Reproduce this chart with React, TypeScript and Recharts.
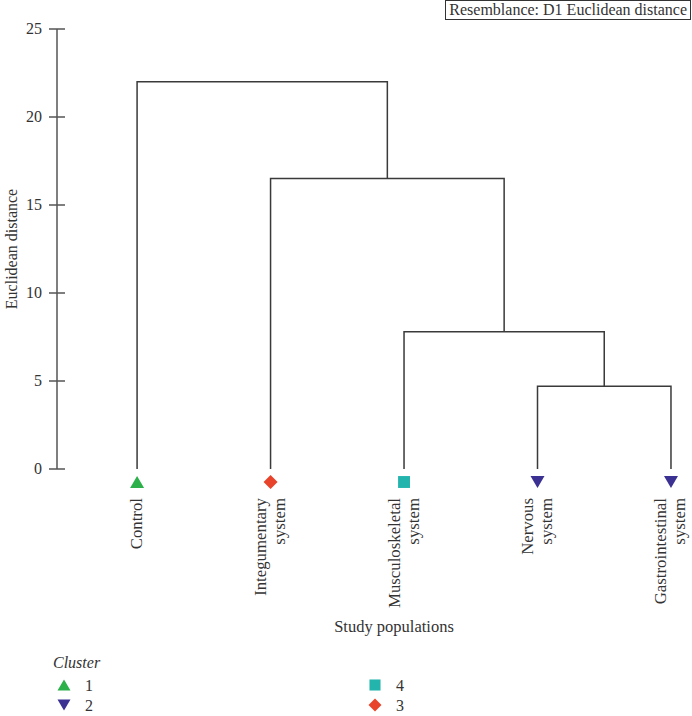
import React from "react";
import { ScatterChart, Scatter, XAxis, YAxis } from "recharts";

const leaves = ["Control", "Integumentary system", "Musculoskeletal system", "Nervous system", "Gastrointestinal system"];
const leafLines = [["Control"], ["Integumentary", "system"], ["Musculoskeletal", "system"], ["Nervous", "system"], ["Gastrointestinal", "system"]];
const leafClusters = [1, 3, 4, 2, 2];

// merges: node ids 0-4 are leaves, merge k creates node 5 + k
const mergeLeft = [3, 2, 1, 0];
const mergeRight = [4, 5, 6, 7];
const mergeHeights = [4.7, 7.8, 16.5, 22.0];

const yTicks = [0, 5, 10, 15, 20, 25];
const legendItems = [
  { cluster: 1, col: 0, row: 0 },
  { cluster: 2, col: 0, row: 1 },
  { cluster: 4, col: 1, row: 0 },
  { cluster: 3, col: 1, row: 1 },
];

const clusterColors: Record<number, string> = { 1: "#2bb04a", 2: "#3a3192", 3: "#e8442b", 4: "#22b4ad" };
const FONT = "'Liberation Serif', 'DejaVu Serif', serif";
const INK = "#333";

// node positions
const nodeX: number[] = leaves.map((_, i) => i);
const nodeH: number[] = leaves.map(() => 0);
mergeHeights.forEach((h, k) => {
  nodeX.push((nodeX[mergeLeft[k]] + nodeX[mergeRight[k]]) / 2);
  nodeH.push(h);
});
const links = mergeHeights.map((h, k) => {
  const a = mergeLeft[k];
  const b = mergeRight[k];
  return [
    { x: nodeX[a], y: nodeH[a] },
    { x: nodeX[a], y: h },
    { x: nodeX[b], y: h },
    { x: nodeX[b], y: nodeH[b] },
  ];
});
const leafData = leaves.map((name, i) => ({ x: i, y: 0, name, cluster: leafClusters[i] }));

function marker(cluster: number, cx: number, cy: number, s = 7) {
  const fill = clusterColors[cluster];
  if (cluster === 1) return <polygon points={`${cx - s},${cy + s * 0.85} ${cx + s},${cy + s * 0.85} ${cx},${cy - s * 0.85}`} fill={fill} />;
  if (cluster === 2) return <polygon points={`${cx - s},${cy - s * 0.85} ${cx + s},${cy - s * 0.85} ${cx},${cy + s * 0.85}`} fill={fill} />;
  if (cluster === 3) return <polygon points={`${cx - s},${cy} ${cx},${cy - s} ${cx + s},${cy} ${cx},${cy + s}`} fill={fill} />;
  return <rect x={cx - s * 0.85} y={cy - s * 0.85} width={s * 1.7} height={s * 1.7} fill={fill} />;
}

const LeafShape = (props: any) => {
  const { cx, cy, payload } = props;
  return marker(payload.cluster, cx, cy + 13);
};

const YTick = (props: any) => {
  const { x, y, payload } = props;
  return (
    <g>
      <line x1={x - 8} x2={x + 8} y1={y} y2={y} stroke="#555" strokeWidth={1.5} />
      <text x={x - 15} y={y} dy={5} textAnchor="end" fill={INK} fontSize={16} fontFamily={FONT}>
        {payload.value}
      </text>
    </g>
  );
};

const XTick = (props: any) => {
  const { x, y, payload } = props;
  const lines = leafLines[payload.value] || [];
  return (
    <g>
      {lines.map((t, i) => {
        const bx = x + 5 - ((lines.length - 1) * 19) / 2 + i * 19;
        const by = y + 29;
        return (
          <text key={i} x={bx} y={by} transform={`rotate(-90, ${bx}, ${by})`} textAnchor="end" fill={INK} fontSize={16.8} fontFamily={FONT}>
            {t}
          </text>
        );
      })}
    </g>
  );
};

const App = () => {
  return (
    <div style={{ position: "absolute", left: 0, top: 0, width: 692, height: 716, background: "#fff" }}>
      <div
        style={{
          position: "absolute", right: 1, top: 0, border: "1px solid #333", padding: "0 3px",
          fontFamily: FONT, fontSize: 16, color: INK, lineHeight: "18px", whiteSpace: "nowrap",
        }}
      >
        Resemblance: D1 Euclidean distance
      </div>
      <ScatterChart width={692} height={716} margin={{ top: 29, right: 1, bottom: 147, left: 8 }}>
        <XAxis
          type="number"
          dataKey="x"
          domain={[-0.6, 4.15]}
          ticks={[0, 1, 2, 3, 4]}
          interval={0}
          axisLine={false}
          tickLine={false}
          tickSize={0}
          tickMargin={0}
          height={100}
          tick={<XTick />}
          label={{
            content: (p: any) => {
              const vb = p.viewBox;
              return (
                <text x={vb.x + vb.width / 2 + 20} y={vb.y + 163} textAnchor="middle" fill={INK} fontSize={16.5} fontFamily={FONT}>
                  Study populations
                </text>
              );
            },
          }}
        />
        <YAxis
          type="number"
          dataKey="y"
          domain={[0, 25]}
          ticks={yTicks}
          width={49}
          axisLine={{ stroke: "#555", strokeWidth: 1.5 }}
          tickLine={false}
          tickSize={0}
          tickMargin={0}
          tick={<YTick />}
          label={{
            content: (p: any) => {
              const vb = p.viewBox;
              const cx = vb.x + 3;
              const cy = vb.y + vb.height / 2;
              return (
                <text x={cx} y={cy} transform={`rotate(-90, ${cx}, ${cy})`} textAnchor="middle" dominantBaseline="central" fill={INK} fontSize={16} fontFamily={FONT}>
                  Euclidean distance
                </text>
              );
            },
          }}
        />
        {links.map((seg, k) => (
          <Scatter
            key={k}
            data={seg}
            line={{ stroke: "#3a3a3a", strokeWidth: 1.5 }}
            lineType="joint"
            shape={() => <g />}
            isAnimationActive={false}
          />
        ))}
        <Scatter data={leafData} shape={<LeafShape />} isAnimationActive={false} />
      </ScatterChart>
      <svg width={692} height={70} style={{ position: "absolute", left: 0, top: 650 }}>
        <text x={53} y={18} fill={INK} fontSize={16} fontStyle="italic" fontFamily={FONT}>
          Cluster
        </text>
        {legendItems.map((it) => {
          const cx = it.col === 0 ? 64 : 375;
          const cy = 35 + it.row * 20;
          return (
            <g key={it.cluster}>
              {marker(it.cluster, cx, cy, 6.5)}
              <text x={cx + 21} y={cy + 6} fill={INK} fontSize={16} fontFamily={FONT}>
                {it.cluster}
              </text>
            </g>
          );
        })}
      </svg>
    </div>
  );
};

export default App;
